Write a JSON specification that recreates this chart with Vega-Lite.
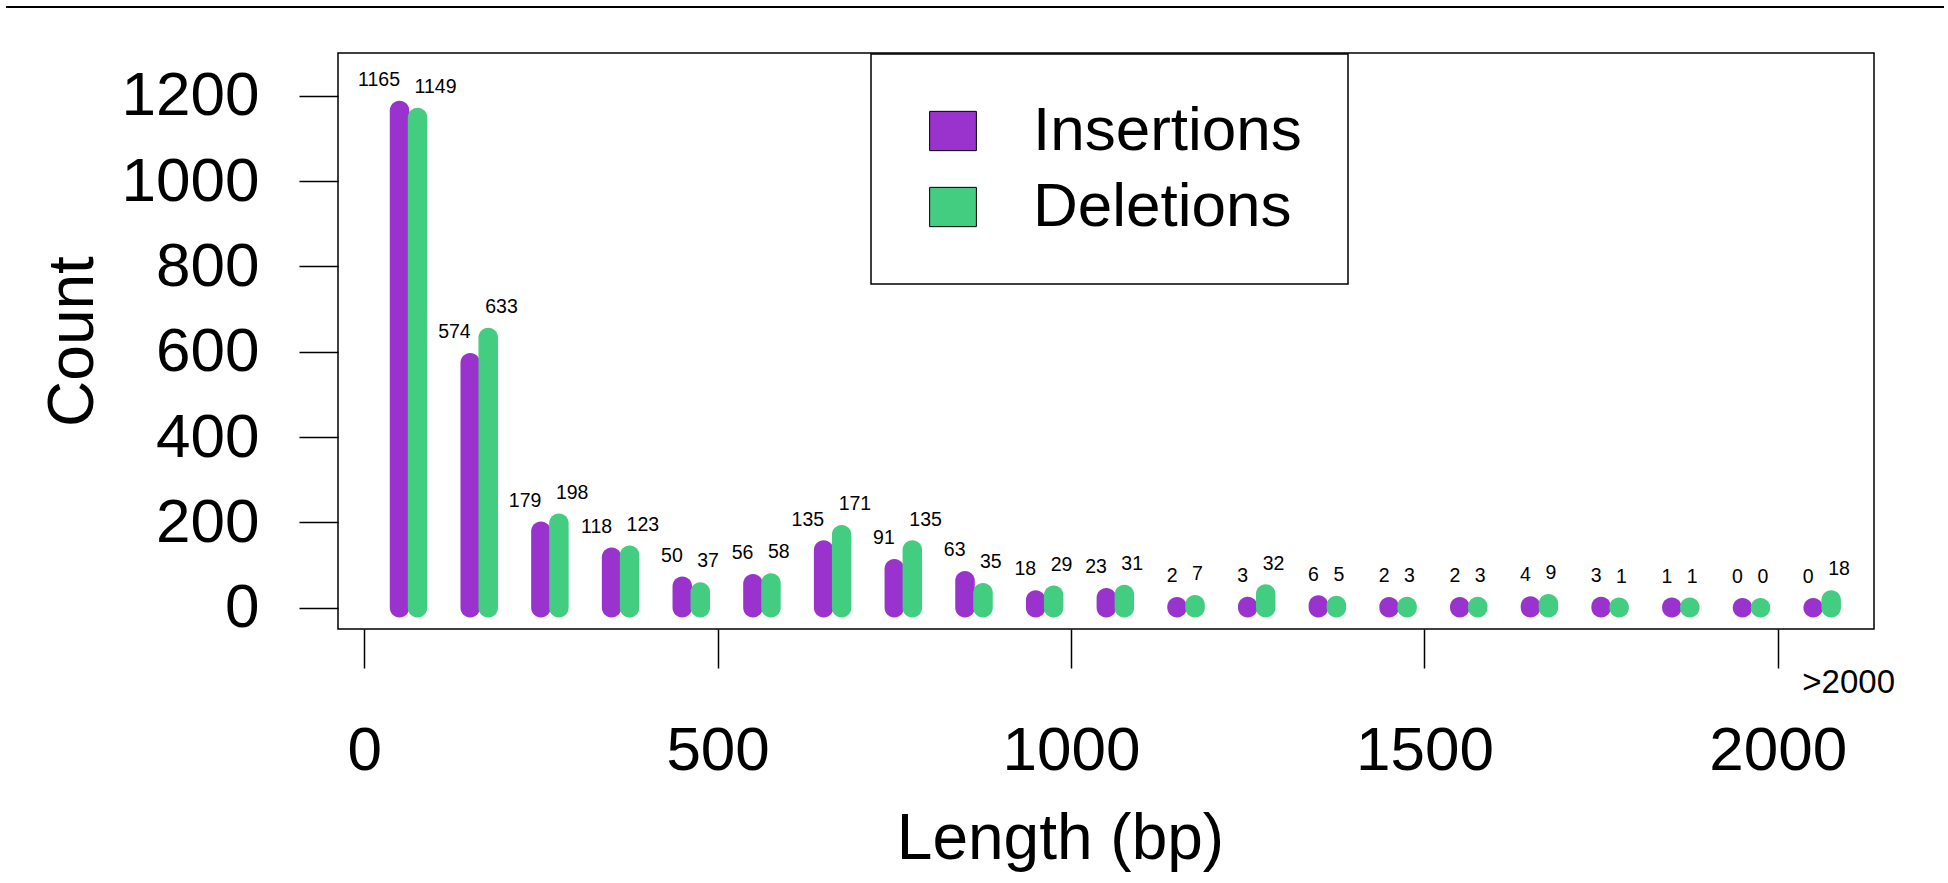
{
  "$schema": "https://vega.github.io/schema/vega-lite/v6.json",
  "width": 1536,
  "height": 576,
  "autosize": {"type": "none"},
  "padding": {"left": 338, "top": 53, "right": 74, "bottom": 254},
  "background": "white",
  "config": {
    "font": "Liberation Sans",
    "view": {"stroke": "black", "strokeWidth": 1.5},
    "axis": {"grid": false, "domain": false, "tickColor": "black", "tickWidth": 1.5, "tickSize": 39, "labelColor": "black", "titleColor": "black", "labelFont": "Liberation Sans", "titleFont": "Liberation Sans", "titleFontWeight": "normal", "labelFontSize": 62, "titleFontSize": 64},
    "legend": {"strokeWidth": 1.5}
  },
  "data": {"values": [
    {"length": 50, "type": "Insertions", "count": 1165}, {"length": 50, "type": "Deletions", "count": 1149},
    {"length": 150, "type": "Insertions", "count": 574}, {"length": 150, "type": "Deletions", "count": 633},
    {"length": 250, "type": "Insertions", "count": 179}, {"length": 250, "type": "Deletions", "count": 198},
    {"length": 350, "type": "Insertions", "count": 118}, {"length": 350, "type": "Deletions", "count": 123},
    {"length": 450, "type": "Insertions", "count": 50}, {"length": 450, "type": "Deletions", "count": 37},
    {"length": 550, "type": "Insertions", "count": 56}, {"length": 550, "type": "Deletions", "count": 58},
    {"length": 650, "type": "Insertions", "count": 135}, {"length": 650, "type": "Deletions", "count": 171},
    {"length": 750, "type": "Insertions", "count": 91}, {"length": 750, "type": "Deletions", "count": 135},
    {"length": 850, "type": "Insertions", "count": 63}, {"length": 850, "type": "Deletions", "count": 35},
    {"length": 950, "type": "Insertions", "count": 18}, {"length": 950, "type": "Deletions", "count": 29},
    {"length": 1050, "type": "Insertions", "count": 23}, {"length": 1050, "type": "Deletions", "count": 31},
    {"length": 1150, "type": "Insertions", "count": 2}, {"length": 1150, "type": "Deletions", "count": 7},
    {"length": 1250, "type": "Insertions", "count": 3}, {"length": 1250, "type": "Deletions", "count": 32},
    {"length": 1350, "type": "Insertions", "count": 6}, {"length": 1350, "type": "Deletions", "count": 5},
    {"length": 1450, "type": "Insertions", "count": 2}, {"length": 1450, "type": "Deletions", "count": 3},
    {"length": 1550, "type": "Insertions", "count": 2}, {"length": 1550, "type": "Deletions", "count": 3},
    {"length": 1650, "type": "Insertions", "count": 4}, {"length": 1650, "type": "Deletions", "count": 9},
    {"length": 1750, "type": "Insertions", "count": 3}, {"length": 1750, "type": "Deletions", "count": 1},
    {"length": 1850, "type": "Insertions", "count": 1}, {"length": 1850, "type": "Deletions", "count": 1},
    {"length": 1950, "type": "Insertions", "count": 0}, {"length": 1950, "type": "Deletions", "count": 0},
    {"length": 2050, "type": "Insertions", "count": 0}, {"length": 2050, "type": "Deletions", "count": 18}
  ]},
  "layer": [
    {
      "transform": [{"filter": "datum.type === 'Insertions'"}],
      "mark": {"type": "bar", "width": 19.5, "cornerRadius": 9.75, "yOffset": -9.75, "y2Offset": 9.75},
      "encoding": {
        "x": {"field": "length", "type": "quantitative",
          "scale": {"domain": [-30, 2129], "nice": false, "zero": false},
          "axis": {
            "values": [0, 500, 1000, 1500, 2000, 2099.5],
            "format": "d",
            "title": "Length (bp)",
            "titleX": 722, "titleY": 229.5, "titleBaseline": "alphabetic",
            "labelExpr": "datum.value > 2050 ? '>2000' : datum.label",
            "labelFontSize": {"condition": {"test": "datum.value > 2050", "value": 33}, "value": 62},
            "labelPadding": {"condition": {"test": "datum.value > 2050", "value": -2}, "value": 52},
            "tickOpacity": {"condition": {"test": "datum.value > 2050", "value": 0}, "value": 1},
            "labelOverlap": false, "labelFlush": false, "labelBound": false
          }},
        "y": {"field": "count", "type": "quantitative",
          "scale": {"domain": [-50, 1300], "nice": false, "zero": false},
          "axis": {
            "values": [0, 200, 400, 600, 800, 1000, 1200],
            "format": "d",
            "title": "Count",
            "titleX": -245.6, "titleY": 288, "titleAngle": -90, "titleBaseline": "alphabetic",
            "labelPadding": 40, "labelOverlap": false
          }},
        "y2": {"datum": 0},
        "color": {"field": "type", "type": "nominal",
          "scale": {"domain": ["Insertions", "Deletions"], "range": ["#9A32CD", "#43CD80"]},
          "legend": {
            "orient": "none", "legendX": 533, "legendY": 1, "title": null, "direction": "vertical",
            "symbolType": "M-1.19,-1H1.19V1H-1.19Z", "symbolSize": 1544, "symbolOffset": 5,
            "symbolStrokeColor": "black", "symbolStrokeWidth": 1, "symbolOpacity": 1,
            "labelFontSize": 62, "labelColor": "black", "labelOffset": 49, "labelLimit": 0,
            "rowPadding": 14, "padding": 46, "strokeColor": "black", "fillColor": "white"
          }}
      }
    },
    {
      "transform": [{"filter": "datum.type === 'Deletions'"}],
      "mark": {"type": "bar", "width": 19.5, "cornerRadius": 9.75, "yOffset": -9.75, "y2Offset": 9.75, "xOffset": 18},
      "encoding": {
        "x": {"field": "length", "type": "quantitative", "title": "Length (bp)"},
        "y": {"field": "count", "type": "quantitative", "title": "Count"},
        "y2": {"datum": 0},
        "color": {"field": "type", "type": "nominal"}
      }
    },
    {
      "transform": [{"filter": "datum.type === 'Insertions'"}],
      "mark": {"type": "text", "align": "right", "baseline": "alphabetic", "dy": -24.5, "dx": 0.5, "fontSize": 19.5, "color": "black"},
      "encoding": {
        "x": {"field": "length", "type": "quantitative", "title": "Length (bp)"},
        "y": {"field": "count", "type": "quantitative", "title": "Count"},
        "text": {"field": "count", "type": "nominal"}
      }
    },
    {
      "transform": [{"filter": "datum.type === 'Deletions'"}],
      "mark": {"type": "text", "align": "left", "baseline": "alphabetic", "dy": -24.5, "dx": -3, "xOffset": 18, "fontSize": 19.5, "color": "black"},
      "encoding": {
        "x": {"field": "length", "type": "quantitative", "title": "Length (bp)"},
        "y": {"field": "count", "type": "quantitative", "title": "Count"},
        "text": {"field": "count", "type": "nominal"}
      }
    },
    {
      "mark": {"type": "rule", "color": "black", "strokeWidth": 2, "clip": false},
      "encoding": {
        "x": {"datum": -506, "type": "quantitative", "title": "Length (bp)"},
        "x2": {"datum": 2234},
        "y": {"datum": 1408, "type": "quantitative", "title": "Count"}
      }
    }
  ]
}
